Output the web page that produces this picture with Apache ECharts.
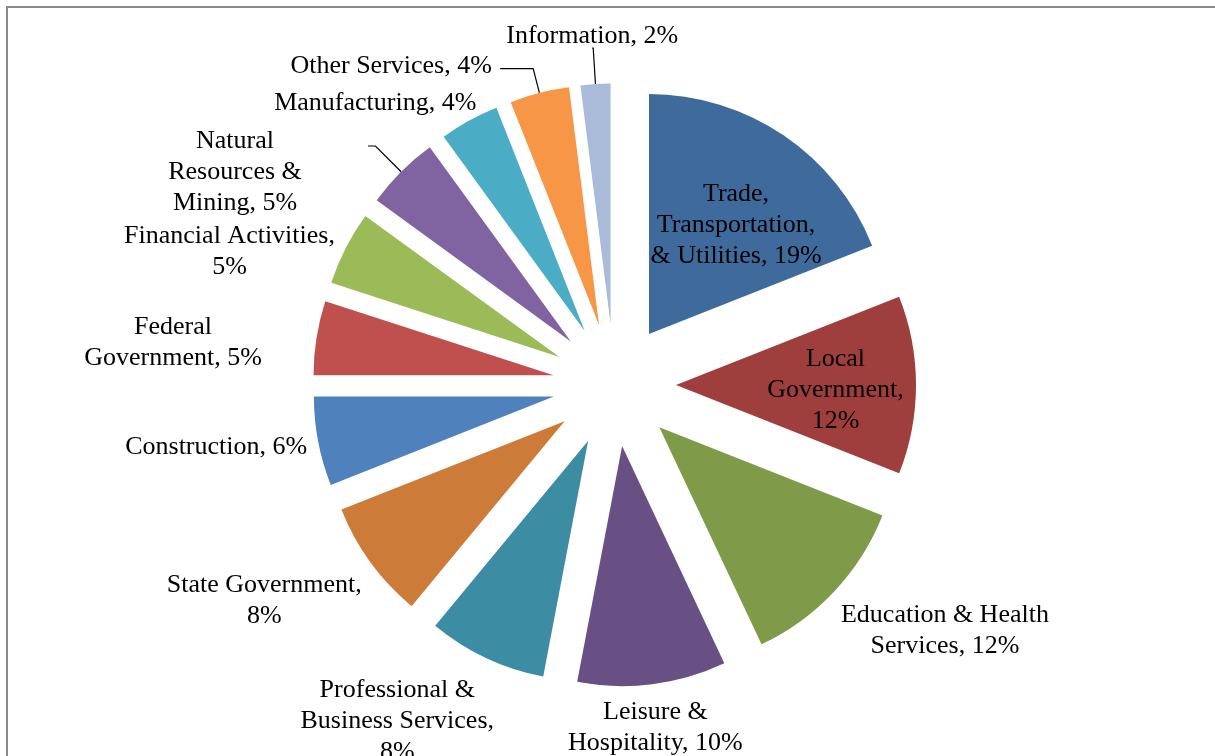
<!DOCTYPE html>
<html>
<head>
<meta charset="utf-8">
<script src="https://cdn.jsdelivr.net/npm/echarts@6/dist/echarts.min.js"></script>
<style>
  html, body { margin: 0; padding: 0; background: #ffffff; overflow: hidden; }
  #chart { position: absolute; left: 0; top: 0; width: 1215px; height: 756px; }
  #frame { position: absolute; left: 6px; top: 6px; width: 1300px; height: 900px;
           border: 2px solid #898989; pointer-events: none; box-sizing: border-box; }
</style>
</head>
<body>
<div id="chart"></div>
<div id="frame"></div>
<script>
// ---- data ----
const categories = [
  'Trade, Transportation, & Utilities', 'Local Government', 'Education & Health Services',
  'Leisure & Hospitality', 'Professional & Business Services', 'State Government',
  'Construction', 'Federal Government', 'Financial Activities',
  'Natural Resources & Mining', 'Manufacturing', 'Other Services', 'Information'
];
const values = [19, 12, 12, 10, 8, 8, 6, 5, 5, 5, 4, 4, 2];
// label text as wrapped in the reference ("|" marks a line break before the percentage)
const labelNames = [
  'Trade,\nTransportation,\n& Utilities', 'Local\nGovernment|', 'Education & Health\nServices',
  'Leisure &\nHospitality', 'Professional &\nBusiness Services|', 'State Government|',
  'Construction', 'Federal\nGovernment', 'Financial Activities|',
  'Natural\nResources &\nMining', 'Manufacturing', 'Other Services', 'Information'
];

// ---- styles ----
const colors = ['#3F6A9C', '#9E3F3D', '#7F9B49', '#685085', '#3C8DA3', '#CD7B38',
                '#4F81BD', '#C0504D', '#9BBB59', '#8064A2', '#4BACC6', '#F79646', '#A9BBD9'];
// label placement along leader geometry: [length, length2, distance, showLine, topPadding]
const labelGeom = [
  [-105.7, 11.5, 0, false, -44],
  [-81, 0.5, 0, false, -41.5],
  [54.6, 70.9, 0, false, -29],
  [41, -2, 0, false, -28],
  [67.5, 60, 0, false, -44.5],
  [60.7, 57, 0, false, -28],
  [19.3, 83, 0, false, -13.5],
  [0.5, 143, 0, false, -26.5],
  [0.5, 115.7, 0, false, -27],
  [36.4, 7.4, 133, true, -20.5],
  [22.5, 83, 0, false, -13.5],
  [25, 33, 109, true, -17.5],
  [36, 1, 0, true, -27]
];

const chart = echarts.init(document.getElementById('chart'), null, { renderer: 'canvas' });

const seriesData = categories.map((name, i) => ({
  name: name,
  value: values[i],
  selected: true,
  itemStyle: { color: colors[i] },
  label: { distanceToLabelLine: labelGeom[i][2], padding: [labelGeom[i][4], 0, 0, 0] },
  labelLine: { show: labelGeom[i][3], length: labelGeom[i][0], length2: labelGeom[i][1] }
}));

chart.setOption({
  animation: false,
  series: [{
    type: 'pie',
    center: [614.4, 385],
    radius: [0, 240],
    startAngle: 90,
    clockwise: true,
    selectedMode: 'multiple',
    selectedOffset: 61.6,
    avoidLabelOverlap: false,
    emphasis: { disabled: true },
    select: { itemStyle: { borderWidth: 0 } },
    itemStyle: { borderWidth: 0 },
    label: {
      show: true,
      position: 'outside',
      alignTo: 'none',
      color: '#000000',
      fontFamily: "'Liberation Serif', 'Times New Roman', serif",
      fontSize: 26,
      lineHeight: 31,
      formatter: function (p) {
        let n = labelNames[p.dataIndex];
        const brk = n.endsWith('|');
        if (brk) n = n.slice(0, -1);
        return n + ',' + (brk ? '\n' : ' ') + Math.round(p.percent) + '%';
      }
    },
    labelLine: {
      lineStyle: { color: '#000000', width: 1.2 },
      minTurnAngle: 0,
      maxSurfaceAngle: 180
    },
    labelLayout: function () {
      return { align: 'center', verticalAlign: 'top' };
    },
    data: seriesData
  }]
});
</script>
</body>
</html>
